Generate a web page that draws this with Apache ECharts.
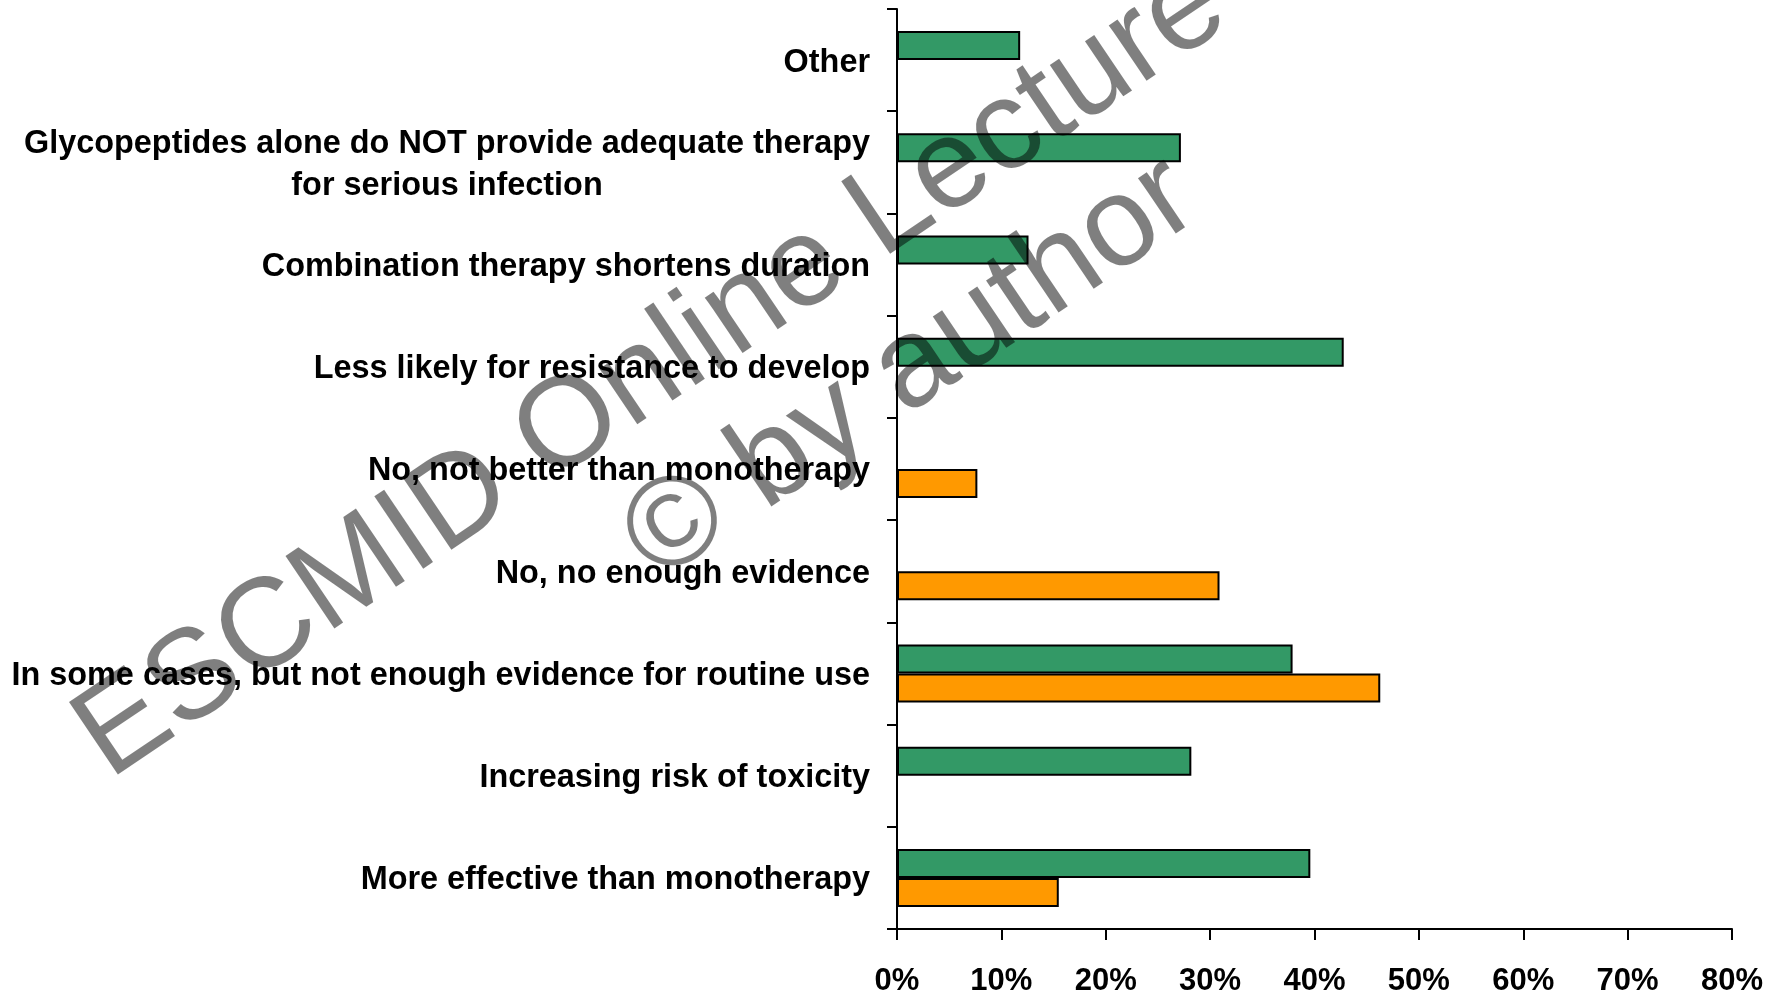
<!DOCTYPE html>
<html>
<head>
<meta charset="utf-8">
<script src="https://cdn.jsdelivr.net/npm/echarts@6/dist/echarts.min.js"></script>
<style>
  html, body { margin: 0; padding: 0; background: #ffffff; }
  #chart { width: 1781px; height: 993px; }
</style>
</head>
<body>
<div id="chart"></div>
<script>
// Survey answers, listed bottom to top along the category axis
const categories = [
  'More effective than monotherapy',
  'Increasing risk of toxicity',
  'In some cases, but not enough evidence for routine use',
  'No, no enough evidence',
  'No, not better than monotherapy',
  'Less likely for resistance to develop',
  'Combination therapy shortens duration',
  'Glycopeptides alone do NOT provide adequate therapy\nfor serious infection',
  'Other'
];

// Share of respondents (%) per answer, one array per group
const greenValues  = [39.6, 28.2, 37.9, null, null, 42.8, 12.6, 27.2, 11.8];
const orangeValues = [15.5, null, 46.3, 30.9, 7.7, null, null, null, null];

// Percent ticks along the value axis
const tickMin = 0;
const tickMax = 80;
const tickStep = 10;

const FONT = '"Liberation Sans", Arial, sans-serif';
const LABEL_SIZE = 32.4;

// Width of the first line of a wrapped label, so its second line can be centred under it
function lineWidth(text) {
  const ctx = document.createElement('canvas').getContext('2d');
  ctx.font = 'bold ' + LABEL_SIZE + 'px ' + FONT;
  return Math.ceil(ctx.measureText(text).width);
}

const wrappedWidth = lineWidth(categories[7].split('\n')[0]);

const chart = echarts.init(document.getElementById('chart'), null, { renderer: 'canvas' });

// Watermark geometry: two lines of text rising to the right
const markAngle = 34 * Math.PI / 180;
const markStyle = {
  font: '127px ' + FONT,
  fill: 'rgba(0,0,0,0.5)',
  align: 'center',
  verticalAlign: 'middle'
};

const option = {
  backgroundColor: '#ffffff',
  animation: false,
  grid: {
    left: 897, right: 49, top: 9, bottom: 64,
    containLabel: false,
    outerBoundsMode: 'none'
  },
  xAxis: {
    type: 'value',
    min: tickMin,
    max: tickMax,
    interval: tickStep,
    splitLine: { show: false },
    axisLine: { show: true, lineStyle: { color: '#000', width: 2 } },
    axisTick: { show: true, length: 11, lineStyle: { color: '#000', width: 2 } },
    axisLabel: {
      margin: 37,
      formatter: '{value}%',
      color: '#000',
      fontFamily: FONT,
      fontWeight: 'bold',
      fontSize: 31
    }
  },
  yAxis: {
    type: 'category',
    data: categories,
    axisLine: { show: true, lineStyle: { color: '#000', width: 2 } },
    axisTick: { show: true, length: 10, lineStyle: { color: '#000', width: 2 } },
    axisLabel: {
      margin: 27,
      color: '#000',
      fontFamily: FONT,
      fontWeight: 'bold',
      fontSize: LABEL_SIZE,
      lineHeight: 42,
      padding: [5, 0, 0, 0],
      formatter: function (value) {
        if (value.indexOf('\n') < 0) return value;
        return value.split('\n').map(function (l) { return '{c|' + l + '}'; }).join('\n');
      },
      rich: {
        c: {
          width: wrappedWidth,
          align: 'center',
          color: '#000',
          fontFamily: FONT,
          fontWeight: 'bold',
          fontSize: LABEL_SIZE,
          lineHeight: 42
        }
      }
    }
  },
  series: [
    {
      name: 'Group A',
      type: 'bar',
      data: greenValues,
      barWidth: 29,
      barGap: '0%',
      itemStyle: { color: '#339966', borderColor: '#000', borderWidth: 2 }
    },
    {
      name: 'Group B',
      type: 'bar',
      data: orangeValues,
      barWidth: 29,
      barGap: '0%',
      itemStyle: { color: '#FF9900', borderColor: '#000', borderWidth: 2 }
    }
  ],
  graphic: [
    {
      type: 'text',
      x: 827,
      y: 254,
      rotation: markAngle,
      z: 100,
      silent: true,
      style: Object.assign({ text: 'ESCMID Online Lecture Library' }, markStyle)
    },
    {
      type: 'text',
      x: 911,
      y: 370,
      rotation: markAngle,
      z: 100,
      silent: true,
      style: Object.assign({ text: '\u00A9 by author' }, markStyle)
    }
  ]
};

chart.setOption(option);
</script>
</body>
</html>
